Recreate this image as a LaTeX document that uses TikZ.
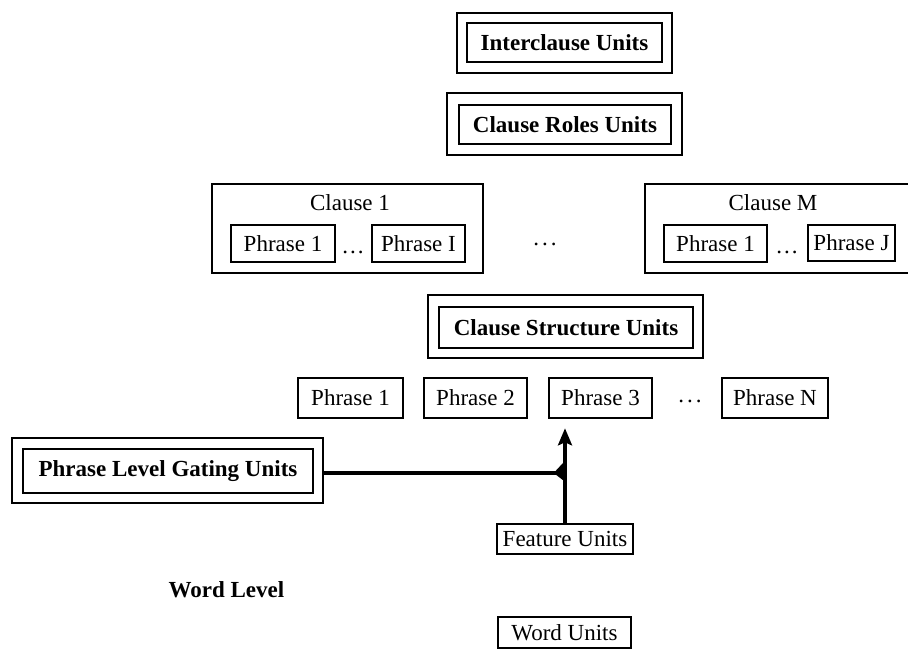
\documentclass[tikz,border=0pt]{standalone}
\usepackage{fontspec}
\setmainfont{Liberation Serif}
\usetikzlibrary{arrows.meta}
\begin{document}
\begin{tikzpicture}[x=1pt,y=-1pt,
  every node/.style={font=\fontsize{23}{27}\selectfont, inner sep=0pt},
  outerbox/.style={draw, line width=2.6pt, rectangle},
  innerbox/.style={draw, line width=2.8pt, rectangle, font=\fontsize{23}{27}\selectfont\bfseries},
  phrbox/.style={draw, line width=2.6pt, rectangle},
  label/.style={font=\fontsize{23}{27}\selectfont},
  boldlabel/.style={font=\fontsize{23}{27}\selectfont\bfseries},
  conn/.style={line width=3.4pt},
]
\useasboundingbox (0,0) rectangle (908,656);
\clip (0,0) rectangle (908,656);

% Interclause
\node[outerbox, minimum width=215pt, minimum height=60pt] (icO) at (564.5,43) {};
\node[innerbox, minimum width=195pt, minimum height=39pt] (ic) at (564.5,42.5) {Interclause Units};

% Clause roles
\node[outerbox, minimum width=235pt, minimum height=62pt] (crO) at (564.5,124) {};
\node[innerbox, minimum width=212pt, minimum height=39pt] (cr) at (565,124.5) {Clause Roles Units};

% Clause 1
\node[outerbox, minimum width=271pt, minimum height=89pt] (c1) at (347.5,228.5) {};
\node[label] (c1l) at (350,203) {Clause 1};
\node[phrbox, minimum width=104pt, minimum height=37pt] (c1p1) at (283,243.5) {Phrase 1};
\node[phrbox, minimum width=93pt, minimum height=37pt] (c1pI) at (418.5,243.5) {Phrase I};
\node[label] (c1d) at (353,252) {.\kern2pt.\kern2pt.};

% middle dots
\node[label] (mdots) at (545,244) {.\kern3pt.\kern3pt.};

% Clause M (right edge cut off)
\node[outerbox, minimum width=266pt, minimum height=89pt] (cm) at (778,228.5) {};
\node[label] (cml) at (773,203) {Clause M};
\node[phrbox, minimum width=103pt, minimum height=37pt] (cmp1) at (715.5,243.5) {Phrase 1};
\node[phrbox, minimum width=87pt, minimum height=36pt] (cmpJ) at (851.5,243) {Phrase J};
\node[label] (cmd) at (787,252) {.\kern2pt.\kern2pt.};

% Clause structure
\node[outerbox, minimum width=275pt, minimum height=63pt] (csO) at (565.5,326.5) {};
\node[innerbox, minimum width=254pt, minimum height=41pt] (cs) at (566,327.5) {Clause Structure Units};

% Phrase row
\node[phrbox, minimum width=105pt, minimum height=40pt] (p1) at (350.5,398) {Phrase 1};
\node[phrbox, minimum width=103pt, minimum height=40pt] (p2) at (475.5,398) {Phrase 2};
\node[phrbox, minimum width=103pt, minimum height=40pt] (p3) at (600.5,398) {Phrase 3};
\node[label] (pdots) at (690,401) {.\kern3pt.\kern3pt.};
\node[phrbox, minimum width=106pt, minimum height=40pt] (pN) at (775,398) {Phrase N};

% Phrase level gating
\node[outerbox, minimum width=311pt, minimum height=65pt] (plgO) at (167.5,470.5) {};
\node[innerbox, minimum width=290pt, minimum height=44pt] (plg) at (168,471) {Phrase Level Gating Units};

% Feature units, word units
\node[phrbox, minimum width=136pt, minimum height=30pt] (feat) at (565,539) {Feature Units};
\node[phrbox, minimum width=133pt, minimum height=31pt] (word) at (564.5,632.5) {Word Units};
\node[boldlabel] (wl) at (226.5,590) {Word Level};

% connectors
\coordinate (junc) at (feat.north |- 0,473);
\coordinate (ptop) at (feat.north |- p3.south);
\draw[conn] (plgO.east |- junc) -- (junc);
\draw[conn, -{Stealth[length=17pt,width=14pt,inset=3pt]}, shorten >=9pt] (feat.north) -- (ptop);
\fill (junc) ++(1.7,-14) -- ++(-13,14) -- ++(13,10) -- cycle;
\end{tikzpicture}
\end{document}
